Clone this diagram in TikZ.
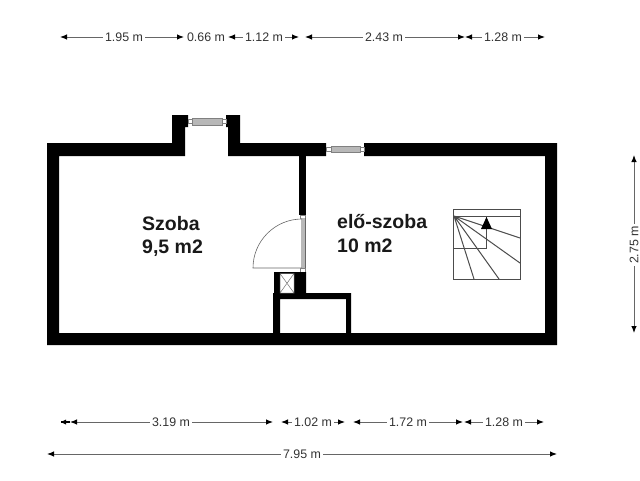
\documentclass[tikz,border=0pt]{standalone}
\usepackage{fontspec}
\setmainfont{Liberation Sans}
\usetikzlibrary{arrows.meta}
\definecolor{dimgray}{gray}{0.4}
\definecolor{glassgray}{gray}{0.72}
\tikzset{
  wall/.style={fill=black,draw=none},
  dimline/.style={draw=dimgray,line width=1pt,{Latex[black,length=7pt,width=5.5pt]}-{Latex[black,length=7pt,width=5.5pt]}},
  dimlabel/.style={fill=white,text=black!80,font=\fontsize{12.4}{14}\selectfont,inner sep=2.5pt},
  roomlabel/.style={align=left,anchor=north west,inner sep=0pt,text=black!90,font=\fontsize{19.5}{23.5}\selectfont\bfseries},
  thinline/.style={draw=black!70,line width=1pt},
  glass/.style={fill=glassgray,draw=black!50,line width=0.4pt},
  hinge/.style={fill=white,draw=black!50,line width=0.4pt}
}
\begin{document}
\begin{tikzpicture}[x=1pt,y=-1pt]
\useasboundingbox (0,0) rectangle (640,480);
% outer walls
\fill [wall] (47,143) -- (172,143) -- (172,115) -- (188,115) -- (188,127) -- (185,127) -- (185,156) -- (59,156) -- (59,333) -- (545,333) -- (545,156) -- (364,156) -- (364,143) -- (557,143) -- (557,345) -- (47,345) -- cycle;
\fill [wall] (228,156) -- (228,127) -- (226,127) -- (226,115) -- (240,115) -- (240,143) -- (326,143) -- (326,156) -- cycle;
% the two top windows
\draw [glass] (192,118) rectangle (222,125);
\draw [hinge] (188,119.5) rectangle (192,123.5);
\draw [hinge] (222,119.5) rectangle (226,123.5);
\draw [glass] (331,146) rectangle (360,152);
\draw [hinge] (326,147) rectangle (331,151);
\draw [hinge] (360,147) rectangle (364,151);
% partition and door
\fill [wall] (299,155) rectangle (306,215);
\draw [hinge] (300,215) rectangle (305,218);
\fill [glassgray] (300.5,218) rectangle (304.5,268);
\draw [black!60,line width=0.5pt] (305,218) -- (305,268);
\draw [black!60,line width=0.6pt] (302,219) arc (270:180:49) -- (302,268);
\draw [hinge] (300,268) rectangle (305,272);
% shaft and closet
\fill [wall] (274,272) -- (306,272) -- (306,293) -- (351,293) -- (351,334) -- (346,334) -- (346,299) -- (280,299) -- (280,334) -- (273,334) -- (273,293) -- (274,293) -- cycle;
\fill [white] (280,273.5) rectangle (294,293);
\draw [black!55,line width=0.5pt] (280,273.5) rectangle (294,293) (280,273.5) -- (294,293) (280,293) -- (294,273.5);
% stairs
\draw [thinline] (453,209.5) rectangle (520,279);
\draw [thinline] (453,216) -- (520,216);
\draw [thinline] (454,216) -- (520,238) (454,216) -- (520,263) (454,216) -- (499,279) (454,216) -- (474,279);
\draw [thinline] (453,248) -- (486,248) -- (486,216);
\fill [black] (486.5,217) -- (492,229) -- (481,229) -- cycle;
% room names
\node [roomlabel] (szoba) at (142,216) {Szoba\\9,5 m2};
\node [roomlabel] (eloszoba) at (337,214.5) {elő-szoba\\10 m2};
% dimensions, top row
\foreach \name/\xa/\xb/\xt/\lab in {a/60/184/124/1.95 m,c/228/299/264/1.12 m,d/305/465/384/2.43 m,e/465/545/503/1.28 m}{
  \coordinate (\name1) at (\xa,37);
  \coordinate (\name2) at (\xb,37);
  \draw [dimline] (\name1) -- (\name2);
  \node [dimlabel] (\name) at (\xt,37) {\lab};
}
\node [dimlabel,inner sep=1pt] (b) at (206,37) {0.66 m};
% dimensions, bottom row
\coordinate (f1) at (61,422);
\coordinate (f2) at (70,422);
\draw [draw=black,line width=1.5pt] (f1) -- (f2);
\fill [black] (61,422) -- (66,419.5) -- (66,424.5) -- cycle;
\foreach \name/\xa/\xb/\xt/\lab in {g/70/273/171/3.19 m,h/281/345/313/1.02 m,i/353/463/408/1.72 m,j/464/544/504/1.28 m}{
  \coordinate (\name1) at (\xa,422);
  \coordinate (\name2) at (\xb,422);
  \draw [dimline] (\name1) -- (\name2);
  \node [dimlabel] (\name) at (\xt,422) {\lab};
}
% overall width and height
\coordinate (k1) at (47,454);
\coordinate (k2) at (557,454);
\draw [dimline] (k1) -- (k2);
\node [dimlabel] (k) at (302,454) {7.95 m};
\coordinate (l1) at (634,155);
\coordinate (l2) at (634,333);
\draw [dimline] (l1) -- (l2);
\node [dimlabel,rotate=90] (l) at (634,245) {2.75 m};
\end{tikzpicture}
\end{document}
